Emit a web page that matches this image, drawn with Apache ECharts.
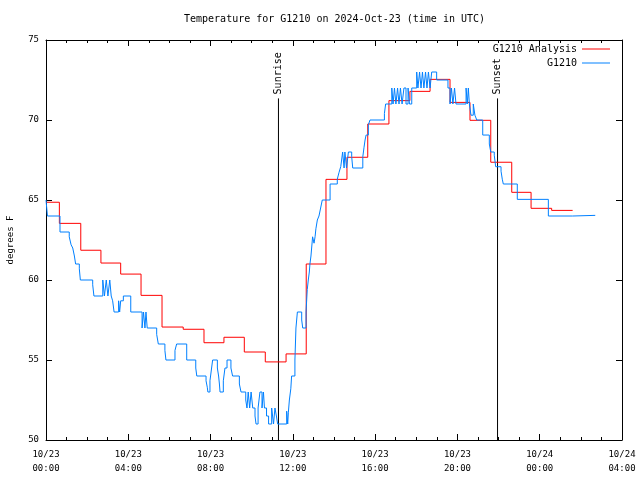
<!DOCTYPE html>
<html>
<head>
<meta charset="utf-8">
<script src="https://cdn.jsdelivr.net/npm/echarts@6/dist/echarts.min.js"></script>
<style>html,body{margin:0;padding:0;background:#fff}#c{width:640px;height:480px}</style>
</head>
<body>
<div id="c"></div>
<script>
const chartTitle = 'Temperature for G1210 on 2024-Oct-23 (time in UTC)';
const yAxisName = 'degrees F';
const analysisName = 'G1210 Analysis';
const obsName = 'G1210';
// hours since 2024-10-23 00:00 UTC
const xMin = 0, xMax = 28, xStep = 4;
const yMin = 50, yMax = 75, yStep = 5;
const sunriseHour = 11.30;
const sunsetHour = 21.95;
const markerTop = 71.35;

const analysisPoints = [
  [0,64.86],[0.65,63.54],[1.69,61.86],[2.67,61.06],[3.63,60.37],[4.62,59.04],
  [5.64,57.06],[6.67,56.92],[7.68,56.08],[8.65,56.42],[9.64,55.5],[10.66,54.88],
  [11.67,55.38],[12.65,61.0],[13.61,66.29],[14.63,67.67],[15.64,69.75],[16.67,71.21],
  [17.69,71.79],[18.67,72.54],[19.64,71.1],[20.61,69.98],[21.62,67.36],[22.64,65.48],
  [23.58,64.48],[24.58,64.35],[25.60,64.35]
];

const obsPoints = [
  [0,65.0],[0.07,64.0],[0.68,63.0],[1.13,62.7],[1.22,62.2],[1.30,62.0],[1.38,61.5],[1.44,61.0],
  [1.62,60.7],[1.67,60.0],[2.27,59.7],[2.33,59.0],[2.76,60.0],[2.84,59.0],[2.93,60.0],[3.01,59.0],
  [3.10,60.0],[3.17,59.0],[3.24,58.7],[3.31,58.0],[3.53,58.7],[3.58,58.0],[3.63,58.7],[3.76,59.0],
  [4.12,58.0],[4.67,57.0],[4.74,58.0],[4.81,57.0],[4.86,58.0],[4.92,57.0],[5.38,56.6],[5.46,56.0],
  [5.78,55.6],[5.83,55.0],[6.27,55.6],[6.35,56.0],[6.84,55.0],[7.28,54.5],[7.33,54.0],[7.78,53.7],
  [7.84,53.3],[7.87,53.0],[7.97,53.7],[8.05,54.5],[8.10,55.0],[8.33,54.5],[8.39,54.0],[8.43,53.5],
  [8.46,53.0],[8.62,53.7],[8.70,54.5],[8.80,55.0],[8.99,54.5],[9.07,54.0],[9.40,53.5],[9.48,53.0],
  [9.71,52.5],[9.77,52.0],[9.83,53.0],[9.90,52.0],[9.97,53.0],[10.05,52.0],[10.16,51.5],[10.21,51.0],
  [10.31,52.0],[10.40,53.0],[10.50,52.0],[10.57,53.0],[10.62,52.0],[10.72,51.5],[10.82,51.0],[10.97,52.0],
  [11.06,51.0],[11.13,52.0],[11.20,51.5],[11.26,51.0],[11.70,51.8],[11.75,51.0],[11.78,51.7],[11.83,52.5],
  [11.90,53.2],[11.94,54.0],[12.10,55.0],[12.15,57.0],[12.22,58.0],[12.43,57.5],[12.48,57.0],[12.64,58.0],
  [12.70,59.4],[12.75,60.0],[12.80,60.5],[12.83,61.0],[12.88,61.5],[12.96,62.7],[13.03,62.3],[13.08,62.7],
  [13.12,63.2],[13.19,63.75],[13.27,64.0],[13.35,64.5],[13.43,65.0],[13.81,66.0],[14.16,66.3],[14.24,66.7],
  [14.33,67.1],[14.37,67.5],[14.42,68.0],[14.49,67.0],[14.53,68.0],[14.61,67.0],[14.70,68.0],[14.86,67.7],
  [14.91,67.0],[15.40,67.7],[15.46,68.3],[15.51,68.75],[15.56,69.06],[15.67,69.7],[15.75,70.0],[16.45,70.4],
  [16.51,71.0],[16.81,72.0],[16.87,71.0],[16.94,72.0],[17.01,71.0],[17.09,72.0],[17.16,71.0],[17.23,72.0],
  [17.31,71.0],[17.40,72.0],[17.50,71.0],[17.60,72.0],[17.67,71.0],[17.78,72.0],[18.02,73.0],[18.08,72.0],
  [18.16,73.0],[18.23,72.0],[18.30,73.0],[18.37,72.0],[18.45,73.0],[18.52,72.0],[18.59,73.0],[18.67,72.0],
  [18.75,73.0],[18.99,72.5],[19.54,72.0],[19.64,71.0],[19.71,72.0],[19.78,71.0],[19.86,72.0],[19.93,71.0],
  [20.42,72.0],[20.48,71.0],[20.53,72.0],[20.58,71.0],[20.66,70.3],[20.77,71.0],[20.85,70.3],[20.94,70.0],
  [21.23,69.06],[21.55,68.5],[21.62,68.0],[21.79,67.8],[21.86,67.08],[22.12,66.8],[22.18,66.3],[22.23,66.0],
  [22.91,65.04],[24.42,64.0],[25.60,64.04],[26.70,64.04]
];

const FONT = '"DejaVu Sans Mono", "Liberation Mono", monospace';
const pad = n => (n < 10 ? '0' : '') + n;
function fmtHour(v) {
  const day = v < 24 ? '10/23' : '10/24';
  return day + '\n' + pad(Math.round(v) % 24) + ':00';
}

const tickStyle = { show: true, inside: true, length: 6, lineStyle: { color: '#000', width: 1 } };
const minorStyle = { show: true, splitNumber: 4, length: 3, lineStyle: { color: '#000', width: 1 } };
const lineAxis = { show: true, onZero: false, lineStyle: { color: '#000', width: 1 } };

function markerSeries(name, hour) {
  return {
    type: 'line', name: name, xAxisIndex: 0, yAxisIndex: 0,
    data: [[hour, yMin], [hour, markerTop]],
    symbol: 'none', showSymbol: false, silent: true,
    lineStyle: { color: '#000', width: 1 }, z: 1,
    endLabel: {
      show: true, formatter: name, rotate: 90, offset: [4, -6],
      distance: 6, align: 'left', verticalAlign: 'middle',
      color: '#000', fontFamily: FONT, fontSize: 10
    }
  };
}

const legendText = { fontFamily: FONT, fontSize: 10, color: '#000' };

const chart = echarts.init(document.getElementById('c'), null, { renderer: 'canvas' });
chart.setOption({
  animation: false,
  backgroundColor: '#fff',
  title: {
    text: chartTitle, left: 184, top: 14, padding: 0,
    textStyle: { fontFamily: FONT, fontSize: 10, fontWeight: 'normal', color: '#000' }
  },
  legend: [
    { data: [analysisName], right: 30, top: 44, padding: 0, orient: 'vertical', align: 'right',
      icon: 'rect', itemWidth: 28, itemHeight: 1, textStyle: legendText },
    { data: [obsName], right: 30, top: 58, padding: 0, orient: 'vertical', align: 'right',
      icon: 'rect', itemWidth: 28, itemHeight: 1, textStyle: legendText }
  ],
  grid: { left: 46, right: 18, top: 40, bottom: 40, containLabel: false, outerBoundsMode: 'none' },
  xAxis: [
    { type: 'value', min: xMin, max: xMax, interval: xStep, position: 'bottom',
      axisLine: lineAxis, axisTick: tickStyle, minorTick: minorStyle, splitLine: { show: false },
      axisLabel: { formatter: fmtHour, margin: 8, lineHeight: 14, color: '#000', fontFamily: FONT, fontSize: 9,
                   showMinLabel: true, showMaxLabel: true, hideOverlap: false } },
    { type: 'value', min: xMin, max: xMax, interval: xStep, position: 'top',
      axisLine: lineAxis, axisTick: tickStyle, minorTick: minorStyle, splitLine: { show: false },
      axisLabel: { show: false } }
  ],
  yAxis: [
    { type: 'value', min: yMin, max: yMax, interval: yStep, position: 'left',
      name: yAxisName, nameLocation: 'middle', nameGap: 31, nameRotate: 90,
      nameTextStyle: { fontFamily: FONT, fontSize: 9, color: '#000' },
      axisLine: lineAxis, axisTick: tickStyle, splitLine: { show: false },
      axisLabel: { margin: 7, color: '#000', fontFamily: FONT, fontSize: 9 } },
    { type: 'value', min: yMin, max: yMax, interval: yStep, position: 'right',
      axisLine: lineAxis, axisTick: tickStyle, splitLine: { show: false },
      axisLabel: { show: false } }
  ],
  series: [
    markerSeries('Sunrise', sunriseHour),
    markerSeries('Sunset', sunsetHour),
    { type: 'line', name: analysisName, data: analysisPoints, step: 'end',
      symbol: 'none', showSymbol: false, color: '#ff0000',
      lineStyle: { color: '#ff0000', width: 1 }, z: 3 },
    { type: 'line', name: obsName, data: obsPoints, step: 'end',
      symbol: 'none', showSymbol: false, color: '#0080ff',
      lineStyle: { color: '#0080ff', width: 1 }, z: 4 }
  ]
});
</script>
</body>
</html>
